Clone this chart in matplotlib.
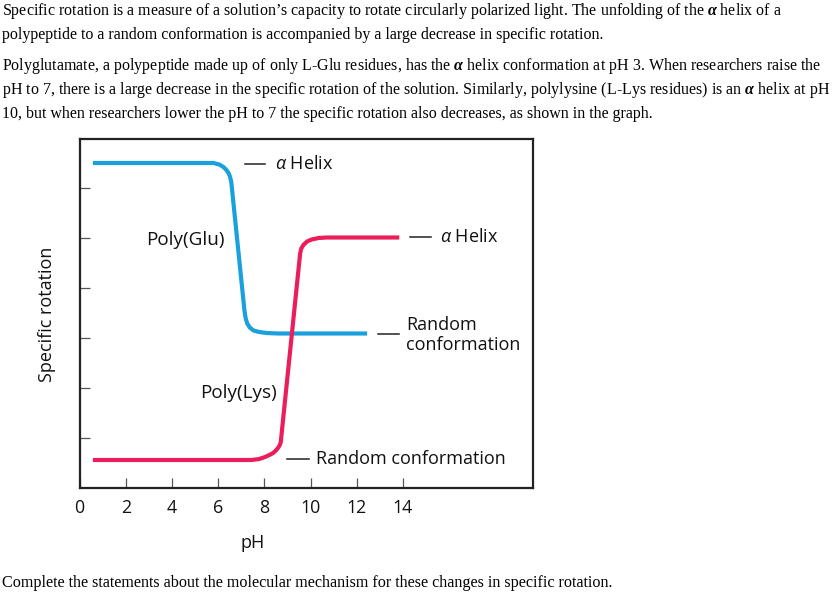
import matplotlib
matplotlib.use("Agg")
import matplotlib.pyplot as plt

matplotlib.rcParams["mathtext.fontset"] = "custom"
matplotlib.rcParams["mathtext.it"] = "Open Sans:italic"
matplotlib.rcParams["mathtext.rm"] = "Open Sans"
matplotlib.rcParams["mathtext.bf"] = "Liberation Serif:italic:bold"

# ---- data ----
glu_ph = [0.58, 5.80, 6.05, 6.23, 6.36, 6.46, 6.52, 6.57, 6.59, 7.14, 7.19, 7.26, 7.37, 7.53, 7.78, 8.10, 8.60, 12.45]
glu_rot = [6.50, 6.50, 6.47, 6.42, 6.36, 6.29, 6.22, 6.12, 6.03, 3.55, 3.40, 3.29, 3.21, 3.15, 3.12, 3.10, 3.09, 3.09]
lys_ph = [0.58, 7.45, 7.78, 8.03, 8.22, 8.38, 8.50, 8.59, 8.66, 8.71, 9.55, 9.60, 9.69, 9.85, 10.05, 10.35, 10.70, 13.84]
lys_rot = [0.56, 0.56, 0.58, 0.62, 0.66, 0.70, 0.75, 0.80, 0.85, 0.91, 4.69, 4.79, 4.86, 4.93, 4.97, 5.00, 5.01, 5.01]
x_ticks = [0, 2, 4, 6, 8, 10, 12, 14]
x_tick_labels = ["0", "2", "4", "6", "8", "10", "12", "14"]
y_ticks = [1, 2, 3, 4, 5, 6]

W, H = 840, 598
fig = plt.figure(figsize=(W / 100, H / 100), dpi=100)
SANS = ["Open Sans", "DejaVu Sans"]
SERIF = ["Liberation Serif", "DejaVu Serif"]

def fx(px):
    return px / W

def fy(py):
    return 1 - py / H

ax = fig.add_axes([fx(79.5), fy(488), fx(533) - fx(79.5), fy(139) - fy(488)])
ax.set_xlim(0, 19.63)
ax.set_ylim(0, 6.98)

blue = "#1aa0dc"
red = "#ea1e5a"
ax.plot(glu_ph, glu_rot, color=blue, lw=3.0, solid_capstyle="butt", solid_joinstyle="round")
ax.plot(lys_ph, lys_rot, color=red, lw=3.0, solid_capstyle="butt", solid_joinstyle="round")

for s in ax.spines.values():
    s.set_linewidth(1.6)
    s.set_color("#222222")

ax.set_xticks(x_ticks)
ax.set_xticklabels(x_tick_labels, fontfamily=SANS, fontsize=12.8, color="#111111")
ax.set_yticks(y_ticks)
ax.set_yticklabels([])
ax.tick_params(axis="both", direction="in", length=7.5, width=0.9, color="#555555")
ax.tick_params(axis="x", pad=8)

# annotations: dash + label
def dash(x0, x1, y):
    fig.add_artist(plt.Line2D([fx(x0), fx(x1)], [fy(y), fy(y)], color="#222222", lw=1.1))

def label(x, y, s, ha="left", fs=13.0, **kw):
    fig.text(fx(x), fy(y), s, ha=ha, va="center", fontfamily=SANS, fontsize=fs, color="#111111", **kw)

dash(245, 265, 164)
label(275, 164, r"$\alpha$ Helix")
dash(410, 431, 237)
label(440, 237, r"$\alpha$ Helix")
dash(378, 399, 334)
label(406, 335, "Random\nconformation", linespacing=1.1)
dash(287, 309, 459)
label(316, 459, "Random conformation")
label(185, 240, "Poly(Glu)", ha="center", fs=13.6)
label(239, 393, "Poly(Lys)", ha="center", fs=13.6)

fig.text(fx(253), fy(543), "pH", ha="center", va="center", fontfamily=SANS, fontsize=13, color="#111111")
fig.text(fx(47), fy(314), "Specific rotation", ha="center", va="center", rotation=90,
         fontfamily=SANS, fontsize=13, color="#111111")

A = r"$\mathbf{\alpha}$"
top_lines = [
    (11, "Specific rotation is a measure of a solution’s capacity to rotate circularly polarized light. The unfolding of the " + A + " helix of a"),
    (35, "polypeptide to a random conformation is accompanied by a large decrease in specific rotation."),
    (66, "Polyglutamate, a polypeptide made up of only L-Glu residues, has the " + A + " helix conformation at pH 3. When researchers raise the"),
    (90, "pH to 7, there is a large decrease in the specific rotation of the solution. Similarly, polylysine (L-Lys residues) is an " + A + " helix at pH"),
    (114, "10, but when researchers lower the pH to 7 the specific rotation also decreases, as shown in the graph."),
]
for y, s in top_lines:
    fig.text(fx(2), fy(y), s, ha="left", va="center", fontfamily=SERIF, fontsize=11.55, color="black")

fig.text(fx(2), fy(583), "Complete the statements about the molecular mechanism for these changes in specific rotation.",
         ha="left", va="center", fontfamily=SERIF, fontsize=11.6, color="black")

fig.savefig("out.png", dpi=100)
